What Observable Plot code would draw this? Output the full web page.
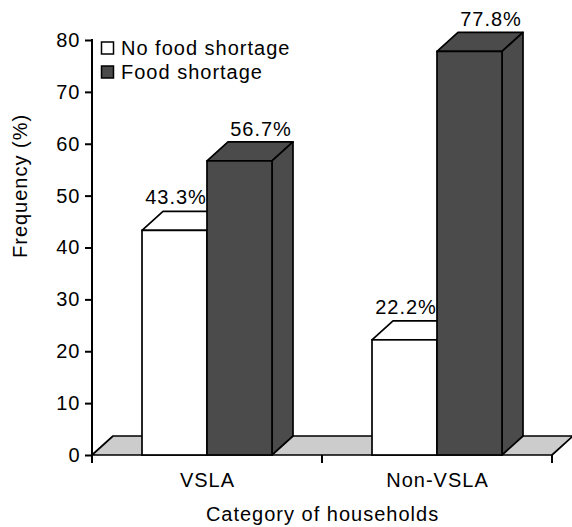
<!DOCTYPE html>
<html>
<head>
<meta charset="utf-8">
<script src="https://cdn.jsdelivr.net/npm/d3@7"></script>
<script src="https://cdn.jsdelivr.net/npm/@observablehq/plot@0.6"></script>
<style>
  html, body { margin: 0; padding: 0; background: #fff; }
</style>
</head>
<body>
<div id="chart"></div>
<script>
// ---- data ----
const categories = ["VSLA", "Non-VSLA"];
const series = ["No food shortage", "Food shortage"];
const noShortage = [43.3, 22.2];
const shortage = [56.7, 77.8];
const yTicks = [0, 10, 20, 30, 40, 50, 60, 70, 80];
const seriesColors = ["#ffffff", "#4b4b4b"];
const xTitle = "Category of households";
const yTitle = "Frequency (%)";

const data = categories.flatMap((c, i) => [
  {category: c, series: series[0], value: noShortage[i]},
  {category: c, series: series[1], value: shortage[i]}
]);

// ---- 3D style ----
const DX = 21, DY = -19;
const SW = 1.7;
const FLOOR = "#cccccc";

function bar3d(index, scales, values) {
  const g = d3.create("svg:g");
  const bw = scales.x.bandwidth();
  for (const i of index) {
    const x0 = values.x[i], x1 = x0 + bw;
    const yt = Math.min(values.y1[i], values.y2[i]);
    const yb = Math.max(values.y1[i], values.y2[i]);
    const f = values.fill[i];
    g.append("path")
      .attr("d", `M${x0},${yt}L${x0 + DX},${yt + DY}L${x1 + DX},${yt + DY}L${x1},${yt}Z`)
      .attr("fill", f).attr("stroke", "black").attr("stroke-width", SW).attr("stroke-linejoin", "round");
    g.append("path")
      .attr("d", `M${x1},${yt}L${x1 + DX},${yt + DY}L${x1 + DX},${yb + DY}L${x1},${yb}Z`)
      .attr("fill", f).attr("stroke", "black").attr("stroke-width", SW).attr("stroke-linejoin", "round");
    g.append("rect")
      .attr("x", x0).attr("y", yt).attr("width", bw).attr("height", yb - yt)
      .attr("fill", f).attr("stroke", "black").attr("stroke-width", SW);
  }
  return g.node();
}

function floorAndAxes(index, scales, values, dim) {
  const g = d3.create("svg:g");
  const left = dim.marginLeft, right = dim.width - dim.marginRight;
  const y0 = scales.y(0), yTop = scales.y(80);
  g.append("path")
    .attr("d", `M${left},${y0}L${right},${y0}L${right + DX},${y0 + DY}L${left + DX},${y0 + DY}Z`)
    .attr("fill", FLOOR).attr("stroke", "black").attr("stroke-width", SW).attr("stroke-linejoin", "round");
  let bounds;
  if (scales.fx) {
    bounds = categories.map(c => scales.fx(c));
    bounds.push(scales.fx(categories[categories.length - 1]) + scales.fx.bandwidth());
  } else {
    bounds = [left, (left + right) / 2, right];
  }
  for (const b of bounds) {
    g.append("line").attr("x1", b).attr("x2", b).attr("y1", y0).attr("y2", y0 + 8)
      .attr("stroke", "black").attr("stroke-width", 2);
  }
  g.append("line").attr("x1", left).attr("x2", left).attr("y1", yTop - 1).attr("y2", y0 + 8)
    .attr("stroke", "black").attr("stroke-width", 2);
  return g.node();
}

function legend(index, scales, values, dim) {
  const g = d3.create("svg:g").attr("text-anchor", "start");
  const x = dim.marginLeft + 9.5, y = dim.marginTop + 2;
  series.forEach((s, i) => {
    g.append("rect").attr("x", x).attr("y", y + 24 * i).attr("width", 12).attr("height", 12)
      .attr("fill", scales.color(s)).attr("stroke", "black").attr("stroke-width", 1.5);
    g.append("text").attr("x", x + 19.5).attr("y", y + 12.5 + 24 * i)
      .attr("text-anchor", "start").attr("fill", "black").text(s);
  });
  return g.node();
}

const chart = Plot.plot({
  width: 572,
  height: 527,
  marginLeft: 91,
  marginRight: 20,
  marginTop: 40,
  marginBottom: 72,
  style: {
    fontFamily: "'Liberation Sans', Arial, Helvetica, sans-serif",
    fontSize: "20px",
    letterSpacing: "1px",
    color: "black",
    background: "white"
  },
  fx: {domain: categories, padding: 0, axis: null, label: null},
  x: {domain: series, paddingInner: 0, paddingOuter: 0.76, axis: null},
  y: {domain: [0, 80], label: null},
  color: {domain: series, range: seriesColors},
  marks: [
    Plot.dot([0], {facet: "super", x: null, y: null, r: 0, render: floorAndAxes}),
    Plot.barY(data, {fx: "category", x: "series", y: "value", fill: "series", render: bar3d}),
    Plot.text(data.filter(d => d.series === series[0]), {
      fx: "category", x: "series", y: "value",
      text: d => d.value.toFixed(1) + "%", dx: 1, dy: -33, lineAnchor: "middle", fill: "black"
    }),
    Plot.text(data.filter(d => d.series === series[1]), {
      fx: "category", x: "series", y: "value",
      text: d => d.value.toFixed(1) + "%", dx: 21, dy: -32, lineAnchor: "middle", fill: "black"
    }),
    Plot.axisY({ticks: yTicks, tickSize: 7, tickPadding: 5, strokeWidth: 2, label: null, tickFormat: d => String(d), fill: "black"}),
    Plot.text(categories, {fx: d => d, frameAnchor: "bottom", dy: 25, lineAnchor: "middle", fill: "black"}),
    Plot.text([xTitle], {facet: "super", frameAnchor: "bottom", dy: 59, lineAnchor: "middle", fill: "black"}),
    Plot.text([yTitle], {facet: "super", frameAnchor: "left", dx: -72, dy: 10, rotate: -90, lineAnchor: "middle", fill: "black"}),
    Plot.dot([0], {facet: "super", x: null, y: null, r: 0, render: legend})
  ]
});

document.getElementById("chart").appendChild(chart);
</script>
</body>
</html>
